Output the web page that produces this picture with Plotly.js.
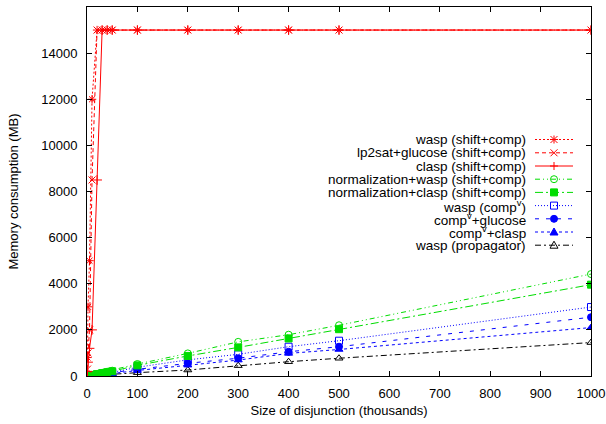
<!DOCTYPE html>
<html><head><meta charset="utf-8">
<script src="https://cdn.plot.ly/plotly-3.0.1.min.js"></script>
<style>html,body{margin:0;padding:0;background:#fff}</style>
</head><body><div id="chart" style="width:606px;height:424px"></div>
<script>
// Size of disjunction (thousands)
const sizes = [1,2,5,10,20,30,40,50,100,200,300,400,500,1000];
const seriesNames = [
  'wasp (shift+comp)',
  'lp2sat+glucose (shift+comp)',
  'clasp (shift+comp)',
  'normalization+wasp (shift+comp)',
  'normalization+clasp (shift+comp)',
  'wasp (comp<sup>v</sup>)',
  'comp<sup>v</sup>+glucose',
  'comp<sup>v</sup>+clasp',
  'wasp (propagator)'
];
// Memory consumption (MB)
const waspShiftComp   = [800,3000,5000,12000,15000,15000,15000,15000,15000,15000,15000,15000,15000,15000];
const lp2satGlucose   = [300,1000,2000,8500,15000,15000,15000,15000,15000,15000,15000,15000,15000,15000];
const claspShiftComp  = [200,600,1200,2000,8500,15000,15000,15000,15000,15000,15000,15000,15000,15000];
const normWasp        = [10,15,30,50,95,140,185,230,520,980,1480,1790,2200,4420];
const normClasp       = [8,12,25,45,85,125,165,205,460,870,1240,1630,2030,3960];
const waspCompV       = [6,10,20,35,65,95,125,155,380,700,940,1270,1530,2990];
const compVGlucose    = [5,8,16,28,55,80,105,130,290,550,770,1050,1270,2550];
const compVClasp      = [4,7,13,24,45,65,85,105,240,470,690,980,1150,2100];
const waspPropagator  = [2,4,8,15,30,45,60,75,145,260,450,620,770,1450];

const seriesValues = [waspShiftComp, lp2satGlucose, claspShiftComp, normWasp, normClasp, waspCompV, compVGlucose, compVClasp, waspPropagator];

const RED = '#ff0000', GREEN = '#00dd00', BLUE = '#0000ff', BLACK = '#000000';
const styles = [
  {color: RED,   dash: '2px,2px',                 symbol: 'asterisk-open',   kind: 'asterisk'},
  {color: RED,   dash: '4px,3px',                 symbol: 'x-thin-open',     kind: 'x'},
  {color: RED,   dash: 'solid',                   symbol: 'cross-thin-open', kind: 'cross'},
  {color: GREEN, dash: '5px,3px,1px,3px,1px,3px', symbol: 'circle-open',     kind: 'circle-open'},
  {color: GREEN, dash: '8px,3px,2px,3px',         symbol: 'square',          kind: 'square'},
  {color: BLUE,  dash: '1px,2px',                 symbol: 'square-open',     kind: 'square-open'},
  {color: BLUE,  dash: '4px,7px',                 symbol: 'circle',          kind: 'circle'},
  {color: BLUE,  dash: '3px,3px',                 symbol: 'triangle-up',     kind: 'triangle'},
  {color: BLACK, dash: '6px,3px,2px,3px',         symbol: 'triangle-up-open',kind: 'triangle-open'}
];

const traces = seriesValues.map((vals, i) => ({
  type: 'scatter', mode: 'lines+markers', name: seriesNames[i],
  x: sizes, y: vals,
  line: {color: styles[i].color, width: 1, dash: styles[i].dash},
  marker: {symbol: styles[i].symbol, size: 7, color: styles[i].color, line: {color: styles[i].color, width: 1}},
  showlegend: false
})).reverse();

// custom gnuplot-style key: text right-aligned, sample on the right
const L = 87, T = 7, W = 504, H = 369;
const px = x => (x - L) / W;
const py = y => (T + H - y) / H;
const rowY = [139.5, 152.8, 166, 179.2, 192.4, 205.6, 218.8, 232, 245.2];
const textX = px(528), lineX0 = px(535), lineX1 = px(573), markX = px(554);

const annotations = [], shapes = [];
seriesNames.forEach((name, i) => {
  const y = py(rowY[i]);
  const st = styles[i];
  annotations.push({xref:'paper', yref:'paper', x: textX, y: y, xanchor:'right', yanchor:'middle',
    text: name, showarrow:false, font:{family:'Liberation Sans, Arial, sans-serif', size:13.5, color:'#000'}});
  shapes.push({type:'line', xref:'paper', yref:'paper', x0: lineX0, x1: lineX1, y0: y, y1: y,
    line:{color: st.color, width:1, dash: st.dash}});
  const base = {xref:'paper', yref:'paper', xsizemode:'pixel', ysizemode:'pixel', xanchor: markX, yanchor: y};
  const ln = {color: st.color, width: 1};
  const r = 3.5;
  if (st.kind === 'asterisk' || st.kind === 'x') {
    shapes.push(Object.assign({type:'line', x0:-r, x1:r, y0:-r, y1:r, line: ln}, base));
    shapes.push(Object.assign({type:'line', x0:-r, x1:r, y0:r, y1:-r, line: ln}, base));
  }
  if (st.kind === 'asterisk' || st.kind === 'cross') {
    shapes.push(Object.assign({type:'line', x0:-4, x1:4, y0:0, y1:0, line: ln}, base));
    shapes.push(Object.assign({type:'line', x0:0, x1:0, y0:-4, y1:4, line: ln}, base));
  }
  if (st.kind === 'circle-open') shapes.push(Object.assign({type:'circle', x0:-r, x1:r, y0:-r, y1:r, line: ln, fillcolor:'rgba(0,0,0,0)'}, base));
  if (st.kind === 'circle') shapes.push(Object.assign({type:'circle', x0:-r, x1:r, y0:-r, y1:r, line: ln, fillcolor: st.color}, base));
  if (st.kind === 'square-open') shapes.push(Object.assign({type:'rect', x0:-r, x1:r, y0:-r, y1:r, line: ln, fillcolor:'rgba(0,0,0,0)'}, base));
  if (st.kind === 'square') shapes.push(Object.assign({type:'rect', x0:-r, x1:r, y0:-r, y1:r, line: ln, fillcolor: st.color}, base));
  if (st.kind === 'triangle') shapes.push(Object.assign({type:'path', path:'M -4,-3 L 4,-3 L 0,4 Z', line: ln, fillcolor: st.color}, base));
  if (st.kind === 'triangle-open') shapes.push(Object.assign({type:'path', path:'M -4,-3 L 4,-3 L 0,4 Z', line: ln, fillcolor:'rgba(0,0,0,0)'}, base));
});

const font = {family:'Liberation Sans, Arial, sans-serif', size:13, color:'#000'};
const axisCommon = {
  showline:true, linecolor:'#000', linewidth:1, mirror:'allticks',
  ticks:'inside', ticklen:5, tickcolor:'#000', tickwidth:1,
  showgrid:false, zeroline:false, tickfont: font, tickformat:'d'
};
const layout = {
  width:606, height:424,
  margin:{l:L, r:606-L-W, t:T, b:424-T-H, pad:0},
  paper_bgcolor:'#fff', plot_bgcolor:'#fff',
  font: font, showlegend:false,
  xaxis: Object.assign({}, axisCommon, {range:[0,1000], dtick:100, tick0:0, ticklabelstandoff:5,
    title:{text:'Size of disjunction (thousands)', font: font, standoff:6}}),
  yaxis: Object.assign({}, axisCommon, {range:[0,16000], dtick:2000, tick0:0, ticklabelstandoff:6,
    title:{text:'Memory consumption (MB)', font: font, standoff:19}}),
  annotations: annotations, shapes: shapes
};
Plotly.newPlot('chart', traces, layout, {displayModeBar:false, staticPlot:true});
</script></body></html>
